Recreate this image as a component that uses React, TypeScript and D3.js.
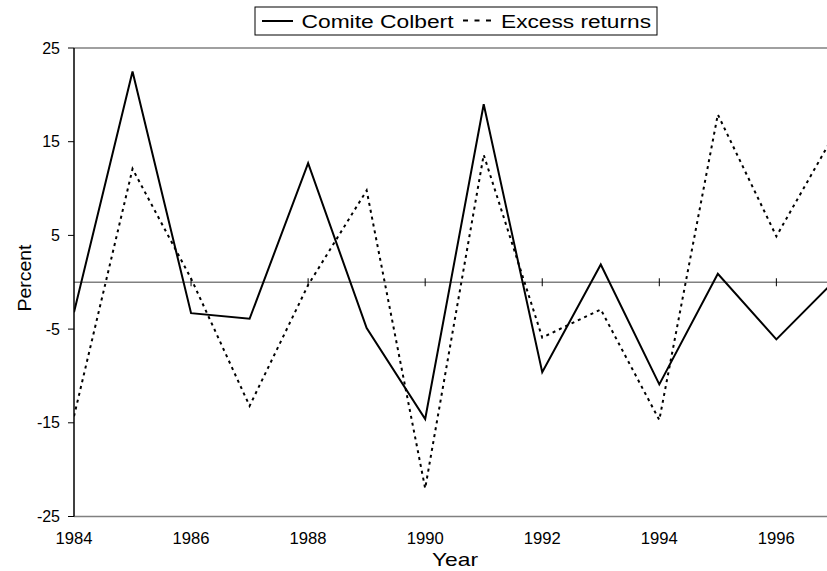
import React from "react";
import * as d3 from "d3";

const years = [1984, 1985, 1986, 1987, 1988, 1989, 1990, 1991, 1992, 1993, 1994, 1995, 1996, 1997];
const colbert = [-3.2, 22.5, -3.3, -3.9, 12.7, -4.9, -14.6, 19.0, -9.6, 1.9, -10.9, 0.9, -6.1, 0.2];
const excess = [-14.3, 12.1, 0.4, -13.2, -0.3, 9.8, -22.0, 13.6, -5.9, -2.9, -14.7, 17.9, 4.9, 15.9];
const yTicks = [25, 15, 5, -5, -15, -25];
const xTicks = [1984, 1986, 1988, 1990, 1992, 1994, 1996];
const seriesNames = ["Comite Colbert", "Excess returns"];

const W = 827;
const H = 571;
const left = 74;
const top = 48;
const bottom = 516.5;
const yearStep = 58.53;

export default function App() {
  const x = d3.scaleLinear().domain([1984, 1997]).range([left, left + 13 * yearStep]);
  const y = d3.scaleLinear().domain([-25, 25]).range([bottom, top]);
  const line = d3
    .line<number>()
    .x((_, i) => x(years[i]))
    .y((d) => y(d));
  const font = "Liberation Sans, Arial, sans-serif";
  return (
    <svg
      width={W}
      height={H}
      style={{ position: "absolute", left: 0, top: 0, display: "block", background: "#fff" }}
      fontFamily={font}
    >
      <defs>
        <clipPath id="plot">
          <rect x={left} y={0} width={W - left} height={H} />
        </clipPath>
      </defs>
      <rect x={0} y={0} width={W} height={H} fill="#fff" />
      {/* frame lines */}
      <line x1={left} x2={W} y1={top} y2={top} stroke="#808080" strokeWidth={1.5} />
      <line x1={left} x2={W} y1={bottom} y2={bottom} stroke="#808080" strokeWidth={1.5} />
      <line x1={left} x2={W} y1={y(0)} y2={y(0)} stroke="#808080" strokeWidth={1.5} />
      {xTicks.slice(1).map((t) => (
        <line key={t} x1={x(t)} x2={x(t)} y1={y(0) - 4} y2={y(0) + 4} stroke="#000" strokeWidth={1} />
      ))}
      <line x1={left} x2={left} y1={top} y2={bottom} stroke="#000" strokeWidth={1.5} />
      {yTicks.map((t) => (
        <g key={t}>
          <line x1={left - 6} x2={left} y1={y(t)} y2={y(t)} stroke="#000" strokeWidth={1} />
          <text x={60} y={y(t) + 5.5} textAnchor="end" fontSize={16} fill="#000">
            {t}
          </text>
        </g>
      ))}
      {xTicks.map((t) => (
        <text key={t} x={x(t)} y={544} textAnchor="middle" fontSize={16} textLength={37} lengthAdjust="spacingAndGlyphs" fill="#000">
          {t}
        </text>
      ))}
      <g clipPath="url(#plot)">
        <path d={line(excess) || ""} fill="none" stroke="#000" strokeWidth={2} strokeDasharray="3,4" />
        <path d={line(colbert) || ""} fill="none" stroke="#000" strokeWidth={2} strokeLinejoin="miter" />
      </g>
      {/* axis titles */}
      <text x={455} y={566} textAnchor="middle" fontSize={19} textLength={46} lengthAdjust="spacingAndGlyphs" fill="#000">
        Year
      </text>
      <text
        transform={`translate(31,${278}) rotate(-90)`}
        textAnchor="middle"
        fontSize={18}
        textLength={67}
        lengthAdjust="spacingAndGlyphs"
        fill="#000"
      >
        Percent
      </text>
      {/* legend */}
      <rect x={255} y={7} width={402} height={28} fill="#fff" stroke="#000" strokeWidth={1} />
      <line x1={262} x2={293} y1={21} y2={21} stroke="#000" strokeWidth={2} />
      <text x={301.5} y={28} fontSize={18} textLength={152} lengthAdjust="spacingAndGlyphs" fill="#000">
        {seriesNames[0]}
      </text>
      <line x1={463} x2={491} y1={20.5} y2={20.5} stroke="#000" strokeWidth={2} strokeDasharray="5,6.5" />
      <text x={501} y={28} fontSize={18} textLength={150} lengthAdjust="spacingAndGlyphs" fill="#000">
        {seriesNames[1]}
      </text>
    </svg>
  );
}
